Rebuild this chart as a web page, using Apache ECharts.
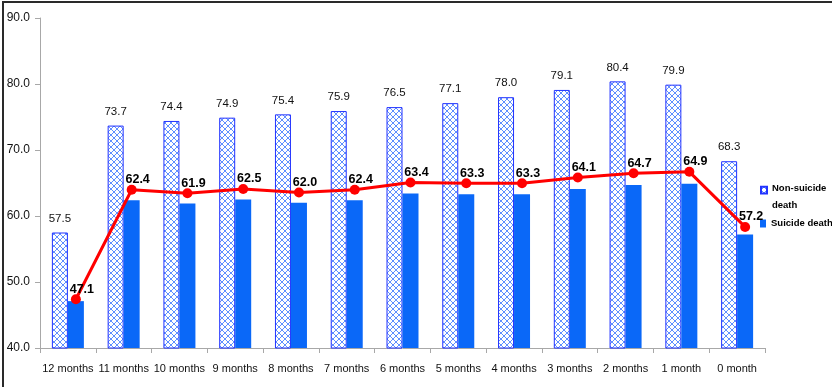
<!DOCTYPE html>
<html>
<head>
<meta charset="utf-8">
<script src="https://cdn.jsdelivr.net/npm/echarts@6/dist/echarts.min.js"></script>
<style>
  html, body { margin: 0; padding: 0; background: #ffffff; }
  #chart { width: 832px; height: 387px; }
</style>
</head>
<body>
<div id="chart"></div>
<script>
// Months before death, left to right
const categories = ['12 months', '11 months', '10 months', '9 months', '8 months', '7 months',
  '6 months', '5 months', '4 months', '3 months', '2 months', '1 month', '0 month'];

// Non-suicide death values
const nonSuicide = [57.5, 73.7, 74.4, 74.9, 75.4, 75.9, 76.5, 77.1, 78.0, 79.1, 80.4, 79.9, 68.3];

// Suicide death values
const suicide = [47.1, 62.4, 61.9, 62.5, 62.0, 62.4, 63.4, 63.3, 63.3, 64.1, 64.7, 64.9, 57.2];

// Value axis ticks
const yTicks = [40, 50, 60, 70, 80, 90];

const FONT = "'Liberation Sans', Arial, sans-serif";

// Cross-hatch fill for the non-suicide bars
function hatchPattern() {
  const c = document.createElement('canvas');
  c.width = 6; c.height = 6;
  const g = c.getContext('2d');
  g.fillStyle = '#ffffff';
  g.fillRect(0, 0, 6, 6);
  g.strokeStyle = '#5f8fff';
  g.lineWidth = 1;
  g.beginPath();
  g.moveTo(0, 0); g.lineTo(6, 6);
  g.moveTo(6, 0); g.lineTo(0, 6);
  g.stroke();
  return c;
}
const hatch = { image: hatchPattern(), repeat: 'repeat' };

const legendText = { fontFamily: FONT, fontSize: 9.5, fontWeight: 'bold', color: '#000', lineHeight: 17 };

const chart = echarts.init(document.getElementById('chart'));

chart.setOption({
  animation: false,
  textStyle: { fontFamily: FONT },
  grid: [
    { left: 40, right: 67, top: 18, bottom: 39 },
    // same plot box shifted so the trend points sit over the suicide bars
    { left: 48, right: 59, top: 18, bottom: 39 }
  ],
  graphic: [{
    type: 'rect',
    shape: { x: 3, y: 2, width: 840, height: 400 },
    style: { fill: 'none', stroke: '#2a2a2a', lineWidth: 2 },
    silent: true
  }],
  legend: [{
    // two-line entry: square drawn at the top of a tall icon box
    left: 760,
    top: 180,
    padding: 0,
    itemWidth: 6,
    itemHeight: 26,
    icon: 'path://M0,1L7,1L7,9L0,9Z M0,0 M0,26',
    textStyle: legendText,
    data: ['Non-suicide death'],
    formatter: function () { return 'Non-suicide\ndeath'; }
  }, {
    left: 760,
    top: 215,
    padding: 0,
    itemWidth: 6,
    itemHeight: 8,
    icon: 'rect',
    textStyle: legendText,
    data: ['Suicide death']
  }],
  xAxis: [{
    type: 'category',
    gridIndex: 0,
    data: categories,
    axisLine: { lineStyle: { color: '#a8a8a8', width: 1 } },
    axisTick: { show: true, length: 5, lineStyle: { color: '#a8a8a8' } },
    axisLabel: { fontFamily: FONT, fontSize: 11, color: '#111', margin: 15, interval: 0 }
  }, {
    type: 'category',
    gridIndex: 1,
    data: categories,
    show: false
  }],
  yAxis: [{
    type: 'value',
    gridIndex: 0,
    min: yTicks[0],
    max: yTicks[yTicks.length - 1],
    interval: yTicks[1] - yTicks[0],
    axisLine: { show: true, lineStyle: { color: '#a8a8a8', width: 1 } },
    axisTick: { show: true, length: 5, lineStyle: { color: '#a8a8a8' } },
    splitLine: { show: false },
    axisLabel: {
      fontFamily: FONT, fontSize: 12, color: '#111', margin: 10,
      formatter: function (v) { return v.toFixed(1); }
    }
  }, {
    // hidden secondary scale carrying the trend line
    type: 'value',
    gridIndex: 1,
    min: 40.28,
    max: 86.4,
    show: false,
    splitLine: { show: false }
  }],
  series: [{
    name: 'Non-suicide death',
    type: 'bar',
    data: nonSuicide,
    barWidth: 16,
    barGap: '0%',
    itemStyle: { color: hatch, borderColor: '#2233ff', borderWidth: 1 },
    label: {
      show: true, position: 'top', distance: 8,
      fontFamily: FONT, fontSize: 11.5, color: '#111',
      formatter: function (p) { return p.value.toFixed(1); }
    }
  }, {
    name: 'Suicide death',
    type: 'bar',
    data: suicide,
    barWidth: 16,
    itemStyle: { color: '#0a68f8' }
  }, {
    name: 'Suicide trend',
    type: 'line',
    xAxisIndex: 1,
    yAxisIndex: 1,
    data: suicide,
    z: 5,
    symbol: 'circle',
    symbolSize: 10,
    lineStyle: { color: '#ff0000', width: 3 },
    itemStyle: { color: '#ff0000' },
    label: {
      show: true, position: 'top', distance: 0, offset: [6, 1.5],
      fontFamily: FONT, fontSize: 12.5, fontWeight: 'bold', color: '#000',
      formatter: function (p) { return p.value.toFixed(1); }
    }
  }]
});
</script>
</body>
</html>
